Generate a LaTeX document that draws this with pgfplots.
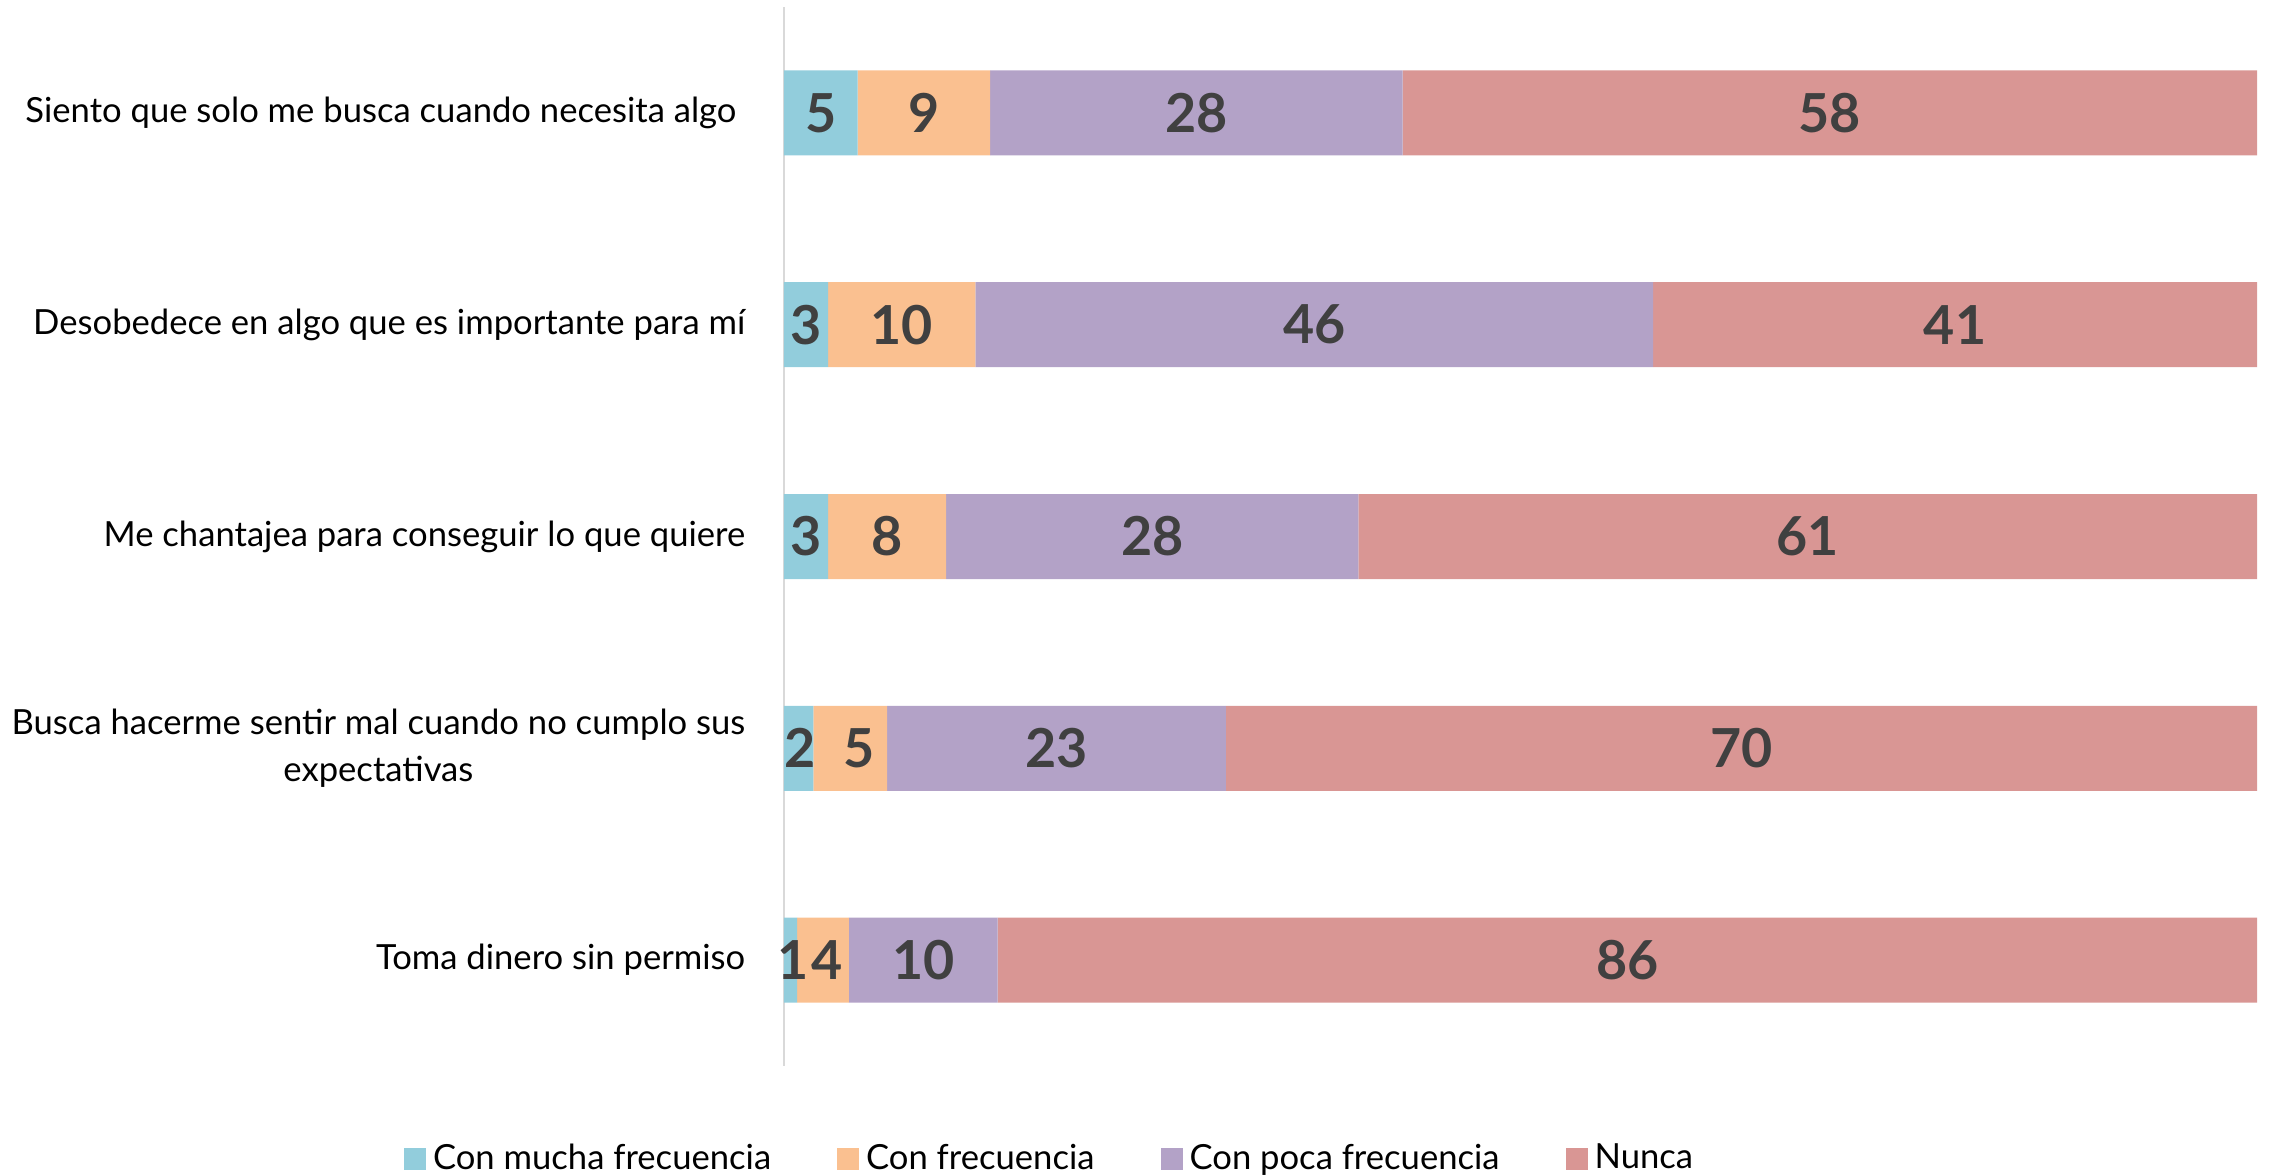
\documentclass[border=0pt]{standalone}
\usepackage{fontspec}
\setmainfont{Lato}
\usepackage{pgfplots}
\pgfplotsset{compat=1.18}

\definecolor{cMucha}{HTML}{92CDDC}
\definecolor{cFrec}{HTML}{FAC090}
\definecolor{cPoca}{HTML}{B3A2C7}
\definecolor{cNunca}{HTML}{D99694}
\definecolor{lbl}{HTML}{404040}
\definecolor{axgray}{HTML}{D9D9D9}

\pgfplotsset{
  base/.style={scale only axis, width=147.3mm, height=105.9mm,
    xmin=0, xmax=100, ymin=-0.5, ymax=4.5, y dir=reverse,
    at={(0,0)}, anchor=south west},
  sq/.style={legend image code/.code={\fill[##1,draw=none] (0mm,-1.1mm) rectangle (2.2mm,1.1mm);}},
}

\begin{document}
\begin{tikzpicture}
% stacked bars (percent)
\begin{axis}[base,
    xbar stacked, bar width=8.5mm,
    axis x line=none, axis y line*=left,
    y axis line style={draw=axgray, line width=0.6pt},
    ytick={0,1,2,3,4},
    yticklabels={{Siento que solo me busca cuando necesita algo\ },
                 {Desobedece en algo que es importante para mí},
                 {Me chantajea para conseguir lo que quiere},
                 {Busca hacerme sentir mal cuando no cumplo sus\\expectativas},
                 {Toma dinero sin permiso}},
    ytick style={draw=none},
    yticklabel style={align=center, inner sep=0pt, xshift=-3.8mm,
                      font=\fontsize{9.85}{13.5}\selectfont},
    legend columns=4,
    legend style={at={(axis description cs:0.182,-0.088)}, anchor=center,
                  draw=none, fill=none, font=\fontsize{9.85}{11}\selectfont,
                  /tikz/every even column/.append style={column sep=5.9mm}},
]
\addplot[fill=cMucha, draw=none, sq] coordinates {(5,0) (3,1) (3,2) (2,3) (0.9,4)};
\addlegendentry{Con mucha frecuencia}
\addplot[fill=cFrec, draw=none, sq] coordinates {(9,0) (10,1) (8,2) (5,3) (3.5,4)};
\addlegendentry{Con frecuencia}
\addplot[fill=cPoca, draw=none, sq] coordinates {(28,0) (46,1) (28,2) (23,3) (10.1,4)};
\addlegendentry{Con poca frecuencia}
\addplot[fill=cNunca, draw=none, sq] coordinates {(58,0) (41,1) (61,2) (70,3) (85.5,4)};
\addlegendentry{Nunca}
\end{axis}

% value labels at segment centres
\begin{axis}[base, hide axis, clip=false,
    nodes near coords, point meta=explicit symbolic,
    nodes near coords style={font=\fontsize{15.3}{15}\bfseries\selectfont,
                             text=lbl, anchor=center, inner sep=0pt},
]
\addplot[only marks, mark=*, mark size=0pt, mark options={draw=none, fill=none}] coordinates {
  (2.5,0) [5]  (9.5,0) [9]  (28,0) [28]  (71,0) [58]
  (1.5,1) [3]  (8,1) [10]   (36,1) [46]  (79.5,1) [41]
  (1.5,2) [3]  (7,2) [8]    (25,2) [28]  (69.5,2) [61]
  (1.1,3) [2]  (5.1,3) [5]  (18.5,3) [23] (65,3) [70]
  (0.6,4) [1]  (2.9,4) [4]  (9.45,4) [10] (57.25,4) [86]
};
\end{axis}

\pgfresetboundingbox
\path (-78.4mm,-11mm) rectangle (149mm,106.6mm);
\end{tikzpicture}
\end{document}
